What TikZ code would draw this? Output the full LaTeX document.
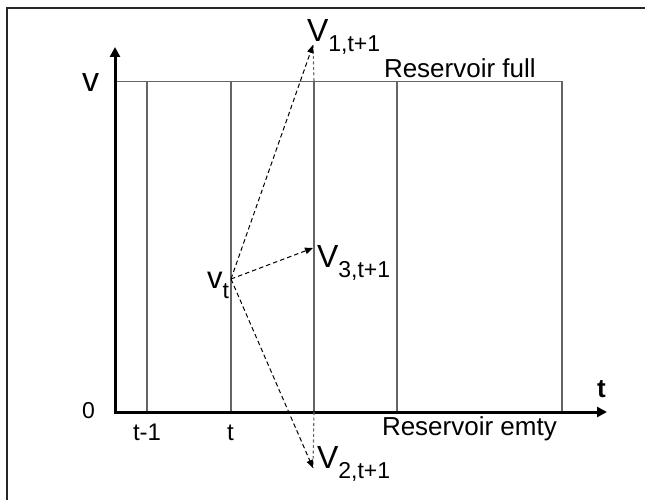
\documentclass[tikz,border=0pt]{standalone}
\usepackage{fontspec}
\setmainfont{Liberation Sans}
\usetikzlibrary{arrows.meta}
\definecolor{gridgray}{RGB}{100,100,100}
\newcommand{\vlabel}[2]{{\fontsize{32}{32}\selectfont #1}\raisebox{-10pt}{\fontsize{23}{23}\selectfont #2}}
\tikzset{
  txt/.style={inner sep=0pt, outer sep=0pt, anchor=base west},
  gridline/.style={draw=gridgray, line width=1.1pt},
  axis/.style={draw=black, line width=3pt, -{Triangle[length=10pt,width=10pt]}},
  move/.style={draw=black, line width=1pt, dash pattern=on 4.5pt off 3pt, -{Triangle[length=8pt,width=6.5pt]}},
  proj/.style={draw=gridgray, line width=1.1pt, dash pattern=on 3pt off 2.5pt},
  frameline/.style={draw=black!85, line width=2pt}
}
\begin{document}
\begin{tikzpicture}[x=1pt,y=-1pt]
\useasboundingbox (0,0) rectangle (645,500);
% frame (top and left edges)
\coordinate (fBL) at (7,501);
\coordinate (fTL) at (7,8);
\coordinate (fTR) at (646,8);
\draw[frameline] (fBL) -- (fTL) -- (fTR);
% grid
\coordinate (full0) at (115,81.5);
\coordinate (full1) at (562,81.5);
\draw[gridline] (full0) -- (full1);
\foreach \x/\n in {147/a,231/b,314/c,397/d,562/e}{
  \coordinate (g\n top) at (\x,81.5);
  \coordinate (g\n bot) at (\x,412);
  \draw[gridline] (g\n top) -- (g\n bot);
}
% axes
\coordinate (origin) at (115,413.5);
\coordinate (ytip) at (115,47);
\coordinate (xorigin) at (113.5,412);
\coordinate (xtip) at (607,412);
\draw[axis] (origin) -- (ytip);
\draw[axis] (xorigin) -- (xtip);
% labels
\node[txt] (lv) at (82,92) {\fontsize{34}{34}\selectfont v};
\node[txt] (l0) at (82,418) {\fontsize{23}{23}\selectfont 0};
\node[txt] (ltm1) at (133,440) {\fontsize{24}{24}\selectfont t-1};
\node[txt] (lt) at (227,440) {\fontsize{24}{24}\selectfont t};
\node[txt] (lT) at (597,397) {\fontsize{26}{26}\selectfont\bfseries t};
\node[txt] (lfull) at (384,78) {\fontsize{26}{26}\selectfont Reservoir full};
\node[txt] (lemty) at (382,435) {\fontsize{26}{26}\selectfont Reservoir emty};
% states
\coordinate (vt) at (231,279);
\coordinate (tip1) at (313,45);
\coordinate (tip3) at (313,248);
\coordinate (tip2) at (313,468);
\node[txt] (lvt) at (207,288) {\fontsize{31}{31}\selectfont v\raisebox{-10pt}{\fontsize{23}{23}\selectfont t}};
\node[txt] (lV1) at (307,42) {\vlabel{V}{1,t+1}};
\node[txt] (lV3) at (317,267) {\vlabel{V}{3,t+1}};
\node[txt] (lV2) at (317,468) {\vlabel{V}{2,t+1}};
% projection lines
\draw[proj] (tip1) -- (gctop);
\draw[proj] (gcbot) -- (tip2);
% transitions
\draw[move] (vt) -- (tip1);
\draw[move] (vt) -- (tip3);
\draw[move] (vt) -- (tip2);
\end{tikzpicture}
\end{document}
